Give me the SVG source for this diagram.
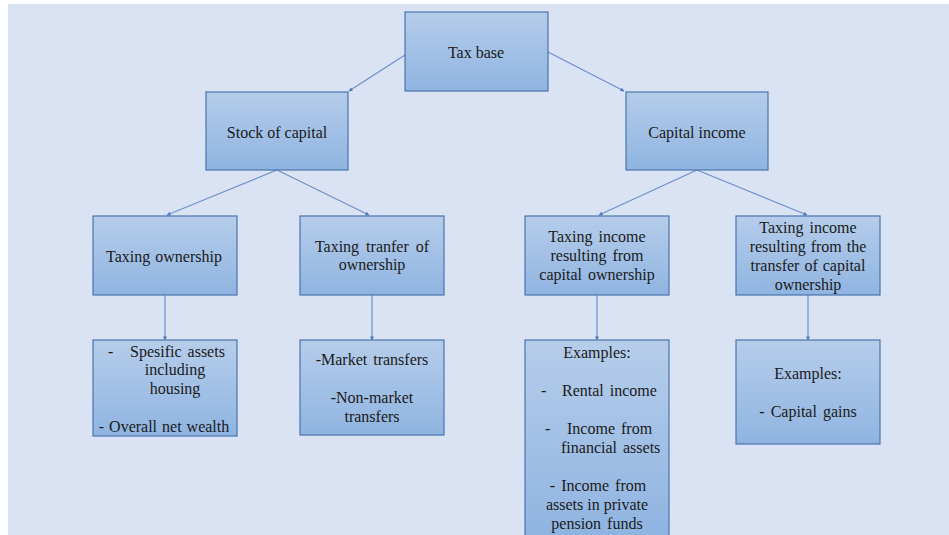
<svg xmlns="http://www.w3.org/2000/svg" width="949" height="535" viewBox="0 0 949 535">
<defs>
<linearGradient id="g" x1="0" y1="0" x2="0" y2="1">
<stop offset="0" stop-color="#b6cdea"/>
<stop offset="1" stop-color="#8fb4e1"/>
</linearGradient>
<marker id="ah" viewBox="0 0 10 10" refX="9" refY="5" markerWidth="4" markerHeight="4" orient="auto" markerUnits="userSpaceOnUse">
<path d="M0,0 L10,5 L0,10 z" fill="#4f78bf"/>
</marker>
<style>
.box{fill:url(#g);stroke:#4a74ad;stroke-width:1.2}
.t{font-family:"Liberation Serif","Times New Roman",serif;font-size:16px;fill:#1a1a1a;text-anchor:middle}
.ts{font-family:"Liberation Serif","Times New Roman",serif;font-size:16px;fill:#1a1a1a}
.c{stroke:#6d8fcc;stroke-width:1.2;fill:none;marker-end:url(#ah)}
</style>
</defs>
<rect x="0" y="0" width="949" height="535" fill="#ffffff"/>
<rect x="8" y="4" width="941" height="531" fill="#dae3f3"/>
<g id="connectors">
<line class="c" x1="405" y1="55" x2="349" y2="91"/>
<line class="c" x1="548" y1="52" x2="624" y2="91"/>
<line class="c" x1="277" y1="170" x2="167" y2="215"/>
<line class="c" x1="277" y1="170" x2="369" y2="215"/>
<line class="c" x1="697" y1="170" x2="599" y2="215"/>
<line class="c" x1="697" y1="170" x2="807" y2="215"/>
<line class="c" x1="165" y1="295" x2="165" y2="340"/>
<line class="c" x1="372" y1="295" x2="372" y2="340"/>
<line class="c" x1="597" y1="295" x2="597" y2="340"/>
<line class="c" x1="808" y1="295" x2="808" y2="340"/>
</g>
<g id="tax-base">
<rect class="box" x="405" y="12" width="143" height="79"/>
<text class="t" x="476" y="58">Tax base</text>
</g>
<g id="stock-of-capital">
<rect class="box" x="206" y="92" width="142" height="78"/>
<text class="t" x="277" y="138">Stock of capital</text>
</g>
<g id="capital-income">
<rect class="box" x="626" y="92" width="142" height="78"/>
<text class="t" x="697" y="138">Capital income</text>
</g>
<g id="taxing-ownership">
<rect class="box" x="93" y="216" width="144" height="79"/>
<text class="t" x="164" y="262" word-spacing="1">Taxing ownership</text>
</g>
<g id="taxing-transfer">
<rect class="box" x="300" y="216" width="144" height="79"/>
<text class="t" x="372" y="252" word-spacing="3">Taxing tranfer of</text>
<text class="t" x="372" y="270">ownership</text>
</g>
<g id="taxing-income-ownership">
<rect class="box" x="525" y="216" width="144" height="79"/>
<text class="t" x="597" y="242" word-spacing="2">Taxing income</text>
<text class="t" x="597" y="261" word-spacing="2">resulting from</text>
<text class="t" x="597" y="280" word-spacing="2">capital ownership</text>
</g>
<g id="taxing-income-transfer">
<rect class="box" x="736" y="216" width="144" height="79"/>
<text class="t" x="808" y="233" word-spacing="2">Taxing income</text>
<text class="t" x="808" y="252" word-spacing="1">resulting from the</text>
<text class="t" x="808" y="271" word-spacing="1">transfer of capital</text>
<text class="t" x="808" y="290">ownership</text>
</g>
<g id="ownership-examples">
<rect class="box" x="93" y="340" width="144" height="96"/>
<text class="ts" x="108" y="357">-</text>
<text class="ts" x="130" y="357" word-spacing="2">Spesific assets</text>
<text class="t" x="175" y="375">including</text>
<text class="t" x="175" y="394">housing</text>
<text class="t" x="164" y="432" word-spacing="1">- Overall net wealth</text>
</g>
<g id="transfer-examples">
<rect class="box" x="300" y="340" width="144" height="95"/>
<text class="t" x="372" y="365" word-spacing="2">-Market transfers</text>
<text class="t" x="372" y="403">-Non-market</text>
<text class="t" x="372" y="422">transfers</text>
</g>
<g id="income-examples">
<rect class="box" x="525" y="340" width="144" height="197"/>
<text class="t" x="597" y="358">Examples:</text>
<text class="ts" x="541" y="396">-</text>
<text class="ts" x="562" y="396" word-spacing="2">Rental income</text>
<text class="ts" x="545" y="434">-</text>
<text class="ts" x="567" y="434" word-spacing="2">Income from</text>
<text class="ts" x="561" y="453" word-spacing="2">financial assets</text>
<text class="t" x="598" y="491" word-spacing="2">- Income from</text>
<text class="t" x="597" y="510">assets in private</text>
<text class="t" x="597" y="529" word-spacing="2">pension funds</text>
</g>
<g id="gains-examples">
<rect class="box" x="736" y="340" width="144" height="104"/>
<text class="t" x="808" y="379">Examples:</text>
<text class="t" x="808" y="417" word-spacing="2">- Capital gains</text>
</g>
</svg>
